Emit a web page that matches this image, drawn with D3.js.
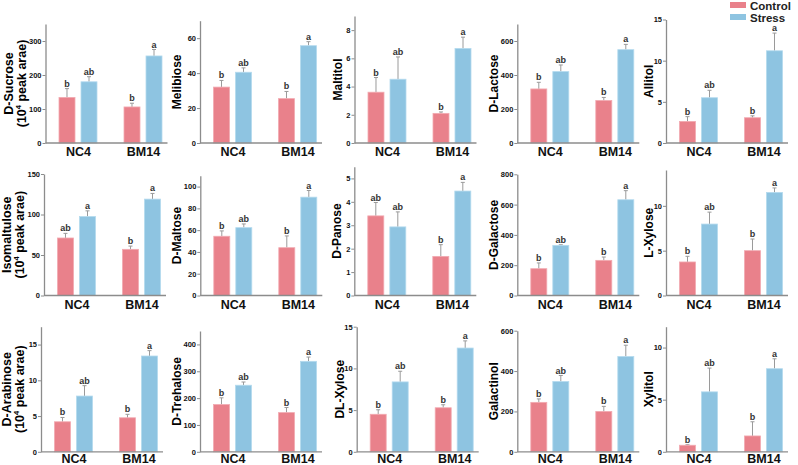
<!DOCTYPE html>
<html>
<head>
<meta charset="UTF-8">
<title>Sugar panels</title>
<style>
  body { margin: 0; background: #fff; }
  svg text { font-family: "Liberation Sans", Arial, sans-serif; font-weight: bold; }
</style>
</head>
<body>
<svg></svg>
<script src="https://d3js.org/d3.v7.min.js"></script>
<script>

let width = 798, height = 465;

// data
const sugars = ["D-Sucrose", "Melibiose", "Maltitol", "D-Lactose", "Allitol",
                "Isomaltulose", "D-Maltose", "D-Panose", "D-Galactose", "L-Xylose",
                "D-Arabinose", "D-Trehalose", "DL-Xylose", "Galactinol", "Xylitol"];
const groups = ["NC4", "BM14"];
const series = ["Control", "Stress"];
const yMax  = [350, 70, 9, 700, 15, 150, 110, 5.5, 800, 14, 17.5, 450, 15, 600, 12];
const yStep = [100, 20, 2, 200, 5, 50, 20, 1, 200, 5, 5, 100, 5, 200, 5];

const nc4Control     = [134, 32, 3.6, 318, 2.62, 71, 54.4, 3.4, 177, 3.74, 4.2, 176, 4.5, 245, 0.63];
const nc4ControlErr  = [26, 3.8, 1.04, 39, 0.58, 5.7, 4.9, 0.57, 38, 0.63, 0.6, 25, 0.54, 17, 0.05];
const nc4Stress      = [180, 40.5, 4.52, 420, 5.5, 97.5, 62.3, 2.93, 331, 7.97, 7.8, 248, 8.38, 348, 5.75];
const nc4StressErr   = [15, 2.5, 1.58, 39, 0.9, 7, 3.4, 0.64, 4, 1.33, 1.45, 12, 1.28, 30, 2.28];
const bm14Control    = [106, 25.4, 2.1, 250, 3.07, 57, 43.9, 1.67, 232, 5.0, 4.76, 146, 5.28, 200, 1.52];
const bm14ControlErr = [11, 4.1, 0.1, 18, 0.23, 4, 10.8, 0.5, 22, 1.3, 0.48, 19, 0.36, 25, 1.36];
const bm14Stress     = [256, 55.7, 6.7, 549, 11.2, 119, 90.3, 4.46, 632, 11.5, 13.4, 337, 12.44, 472, 7.97];
const bm14StressErr  = [19, 2.3, 0.8, 31, 2.15, 7, 6.1, 0.37, 60, 0.5, 0.75, 16, 0.86, 56, 0.95];
// letters: NC4 control, NC4 stress, BM14 control, BM14 stress
const letters = [
  ["b","ab","b","a"], ["b","ab","b","a"], ["b","ab","b","a"], ["b","ab","b","a"], ["b","ab","b","a"],
  ["ab","a","b","a"], ["b","ab","b","a"], ["ab","ab","b","a"], ["b","ab","b","a"], ["b","ab","b","a"],
  ["b","ab","b","a"], ["b","ab","b","a"], ["b","ab","b","a"], ["b","ab","b","a"], ["b","ab","b","a"]
];

// panel layout (y-axis x position, axis top and bottom)
const panelX   = [45.5, 200, 354.5, 517.3, 666, 44, 200.3, 354.3, 517.3, 666, 41, 200, 356.7, 517.3, 666];
const panelTop = [24, 20.7, 16, 24, 19.5, 174, 175.7, 166.7, 174.3, 170, 326.7, 331, 326.7, 330.7, 326.7];
const rowBottom = [143, 295.5, 451.8];
const labelPad = [4.6, 4.2, 2.4];
const titleOffset = [0, 23, 17, 23, 17];

const color = d3.scaleOrdinal().domain(series).range(["#e9818b", "#8ec4e1"]);
const edge  = d3.scaleOrdinal().domain(series).range(["#f2aab1", "#b4daee"]);
const axisColor = "#8c8c8c";

let svg = d3.select("svg")
    .attr("width", width)
    .attr("height", height)
    .attr("viewBox", "0 0 " + width + " " + height);

sugars.forEach((name, i) => {
    let row = Math.floor(i / 5), col = i % 5;
    let ax = panelX[i], bottom = rowBottom[row];

    let g = svg.append("g").attr("transform", "translate(" + ax + ",0)");

    let y = d3.scaleLinear().domain([0, yMax[i]]).range([bottom, panelTop[i]]);
    let x0 = d3.scalePoint().domain(groups).range([0, 130]).padding(0.5);
    let x1 = d3.scaleBand().domain(series).range([-19, 19]).paddingInner(0.273);

    let rows = [
        {group: "NC4",  s: "Control", v: nc4Control[i],  e: nc4ControlErr[i],  l: letters[i][0]},
        {group: "NC4",  s: "Stress",  v: nc4Stress[i],   e: nc4StressErr[i],   l: letters[i][1]},
        {group: "BM14", s: "Control", v: bm14Control[i], e: bm14ControlErr[i], l: letters[i][2]},
        {group: "BM14", s: "Stress",  v: bm14Stress[i],  e: bm14StressErr[i],  l: letters[i][3]}
    ];
    let cx = d => x0(d.group) + x1(d.s) + x1.bandwidth() / 2;

    // error bars (upper only)
    let eb = g.append("g").attr("stroke", "#9a9a9a").attr("stroke-width", 1);
    eb.selectAll("line.v").data(rows).enter().append("line")
        .attr("x1", cx).attr("x2", cx)
        .attr("y1", d => y(d.v)).attr("y2", d => y(d.v + d.e));
    eb.selectAll("line.c").data(rows).enter().append("line")
        .attr("x1", d => cx(d) - 2).attr("x2", d => cx(d) + 2)
        .attr("y1", d => y(d.v + d.e)).attr("y2", d => y(d.v + d.e));

    // bars
    g.append("g").selectAll("rect").data(rows).enter().append("rect")
        .attr("x", d => x0(d.group) + x1(d.s))
        .attr("width", x1.bandwidth())
        .attr("y", d => y(d.v))
        .attr("height", d => y(0) - y(d.v))
        .attr("fill", d => color(d.s))
        .attr("stroke", d => edge(d.s))
        .attr("stroke-width", 0.8);

    // significance letters
    g.append("g").selectAll("text").data(rows).enter().append("text")
        .attr("x", cx)
        .attr("y", d => y(d.v + d.e) - 2)
        .attr("text-anchor", "middle")
        .style("font-size", "9px")
        .attr("fill", "#333")
        .text(d => d.l);

    // y axis
    let yAxis = g.append("g")
        .call(d3.axisLeft(y)
            .tickValues(d3.range(0, yMax[i] + 1e-9, yStep[i]))
            .tickFormat(d3.format("~g"))
            .tickSize(3).tickSizeOuter(0).tickPadding(1));
    yAxis.select(".domain").attr("stroke", axisColor).attr("stroke-width", 1.3);
    yAxis.selectAll(".tick line").attr("stroke", axisColor);
    yAxis.selectAll(".tick text").style("font-size", "7.5px").attr("fill", "#111");

    // x axis
    g.append("line")
        .attr("x1", 0).attr("x2", 122)
        .attr("y1", bottom).attr("y2", bottom)
        .attr("stroke", axisColor).attr("stroke-width", 1.3);
    let xAxis = g.append("g")
        .attr("transform", "translate(0," + bottom + ")")
        .call(d3.axisBottom(x0).tickSize(0).tickPadding(labelPad[row]));
    xAxis.select(".domain").remove();
    xAxis.selectAll(".tick text").style("font-size", "12.5px").attr("fill", "#111");

    // y title
    let cy = (bottom + panelTop[i]) / 2;
    if (col == 0) {
        let t1x = Math.max(-37, 7 - ax);
        g.append("text")
            .attr("transform", "translate(" + t1x + "," + cy + ") rotate(-90)")
            .attr("text-anchor", "middle")
            .attr("dominant-baseline", "central")
            .style("font-size", "12.5px")
            .text(name);
        let t2 = g.append("text")
            .attr("transform", "translate(" + (t1x + 13) + "," + cy + ") rotate(-90)")
            .attr("text-anchor", "middle")
            .attr("dominant-baseline", "central")
            .style("font-size", "12.5px");
        t2.append("tspan").text("(10");
        t2.append("tspan").style("font-size", "7.5px").attr("dy", -4).text("4");
        t2.append("tspan").attr("dy", 4).text(" peak arae)");
    } else {
        g.append("text")
            .attr("transform", "translate(" + (-titleOffset[col]) + "," + cy + ") rotate(-90)")
            .attr("text-anchor", "middle")
            .attr("dominant-baseline", "central")
            .style("font-size", "12px")
            .text(name);
    }
});

// legend
let legend = svg.append("g").selectAll("g").data(series).enter().append("g")
    .attr("transform", (d, k) => "translate(730," + (2 + k * 12) + ")");
legend.append("rect")
    .attr("width", 16).attr("height", 6)
    .attr("fill", d => color(d));
legend.append("text")
    .attr("x", 20).attr("y", 7.5)
    .style("font-size", "11.5px")
    .attr("fill", "#222")
    .text(d => d);

</script>
</body>
</html>
